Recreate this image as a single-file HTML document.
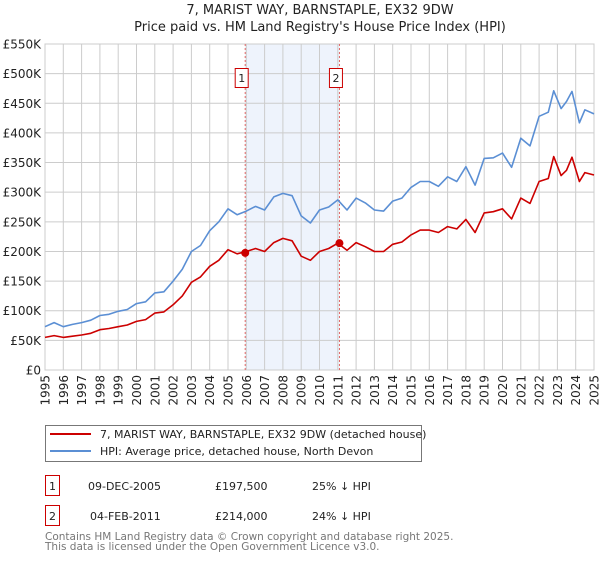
<!DOCTYPE html>
<html><head><meta charset="utf-8"><style>
body{margin:0;background:#fff;font-family:"DejaVu Sans","Liberation Sans",sans-serif;}
svg text{font-family:"DejaVu Sans","Liberation Sans",sans-serif;}
</style></head><body>
<svg id="chart" width="600" height="560" xmlns="http://www.w3.org/2000/svg">
<text x="320" y="14" text-anchor="middle" font-size="13" fill="#222">7, MARIST WAY, BARNSTAPLE, EX32 9DW</text>
<text x="320" y="31" text-anchor="middle" font-size="13" fill="#222">Price paid vs. HM Land Registry's House Price Index (HPI)</text>
<g id="plot"></g>
<g>
<rect x="45.5" y="425.5" width="376" height="36" fill="#fff" stroke="#777"/>
<line x1="50" y1="434" x2="91" y2="434" stroke="#cc0000" stroke-width="2"/>
<text x="100" y="438" font-size="11" fill="#222">7, MARIST WAY, BARNSTAPLE, EX32 9DW (detached house)</text>
<line x1="50" y1="451" x2="91" y2="451" stroke="#5b8fd4" stroke-width="2"/>
<text x="100" y="455" font-size="11" fill="#222">HPI: Average price, detached house, North Devon</text>
</g>
<g font-size="11" fill="#222">
<rect x="45.5" y="475.5" width="14" height="20" fill="#fff" stroke="#cc0000"/>
<text x="52.5" y="490" text-anchor="middle">1</text>
<text x="88" y="490">09-DEC-2005</text>
<text x="215" y="490">£197,500</text>
<text x="312" y="490">25% ↓ HPI</text>
<rect x="45.5" y="505.5" width="14" height="20" fill="#fff" stroke="#cc0000"/>
<text x="52.5" y="520" text-anchor="middle">2</text>
<text x="90" y="520">04-FEB-2011</text>
<text x="215" y="520">£214,000</text>
<text x="312" y="520">24% ↓ HPI</text>
</g>
<text x="45" y="540" font-size="10.5" fill="#777">Contains HM Land Registry data © Crown copyright and database right 2025.</text>
<text x="45" y="550" font-size="10.5" fill="#777">This data is licensed under the Open Government Licence v3.0.</text>
</svg>
<script>
const times=[1995,1995.5,1996,1996.5,1997,1997.5,1998,1998.5,1999,1999.5,2000,2000.5,2001,2001.5,2002,2002.5,2003,2003.5,2004,2004.5,2005,2005.5,2006,2006.5,2007,2007.5,2008,2008.5,2009,2009.5,2010,2010.5,2011,2011.5,2012,2012.5,2013,2013.5,2014,2014.5,2015,2015.5,2016,2016.5,2017,2017.5,2018,2018.5,2019,2019.5,2020,2020.5,2021,2021.5,2022,2022.5,2022.8,2023.2,2023.5,2023.8,2024.2,2024.5,2025];
const hpiValues=[73,80,73,77,80,84,92,94,99,102,112,115,130,132,150,170,200,210,235,250,272,262,268,276,270,292,298,294,260,248,270,275,287,270,290,282,270,268,285,290,308,318,318,310,326,318,343,312,357,358,366,342,391,378,428,435,471,441,453,470,417,439,432];
const priceValues=[55,58,55,57,59,62,68,70,73,76,82,85,96,98,110,125,148,157,175,185,203,196,200,205,200,215,222,218,192,185,200,205,214,202,215,208,200,200,212,216,228,236,236,232,242,238,254,232,265,267,272,255,290,281,318,323,360,328,337,359,318,333,329];
const yTicks=[0,50,100,150,200,250,300,350,400,450,500,550];
const yTickLabels=["£0","£50K","£100K","£150K","£200K","£250K","£300K","£350K","£400K","£450K","£500K","£550K"];
const xYears=[1995,1996,1997,1998,1999,2000,2001,2002,2003,2004,2005,2006,2007,2008,2009,2010,2011,2012,2013,2014,2015,2016,2017,2018,2019,2020,2021,2022,2023,2024,2025];
const saleTimes=[2005.94,2011.09];
const salePrices=[197.5,214];
const saleLabels=["1","2"];

const X0=45,X1=594,Y0=370,Y1=44;
const xs=t=>X0+(t-1995)/(2025-1995)*(X1-X0);
const ys=v=>Y0-v/550*(Y0-Y1);
const NS="http://www.w3.org/2000/svg";
const g=document.getElementById('plot');
function mk(tag,attrs){const e=document.createElementNS(NS,tag);for(const k in attrs)e.setAttribute(k,attrs[k]);g.appendChild(e);return e;}

const bg=mk('rect',{x:X0,y:Y1,width:X1-X0,height:Y0-Y1,fill:'#fff'});


const sh=mk('rect',{x:xs(saleTimes[0]),y:Y1,width:xs(saleTimes[1])-xs(saleTimes[0]),height:Y0-Y1,fill:'#eef3fc'});



yTicks.forEach((v,i)=>{
 const l=mk('line',{x1:X0,x2:X1,y1:ys(v),y2:ys(v),stroke:'#ccc','stroke-width':1});
 
 
 const t=mk('text',{x:X0-4,y:ys(v)+4.5,'text-anchor':'end','font-size':'12',fill:'#222'});
 t.textContent=yTickLabels[i];
 
 
});
xYears.forEach(yr=>{
 const l=mk('line',{x1:xs(yr),x2:xs(yr),y1:Y1,y2:Y0,stroke:'#ccc','stroke-width':1});
 
 
 const t=mk('text',{x:0,y:0,'text-anchor':'end','font-size':'12',fill:'#222',transform:`translate(${xs(yr)+4.5},${Y0+5}) rotate(-90)`});
 t.textContent=yr;
 
 
});
const br=mk('rect',{x:X0,y:Y1,width:X1-X0,height:Y0-Y1,fill:'none',stroke:'#ccc'});



saleTimes.forEach((t,i)=>{
 const l=mk('line',{x1:xs(t),x2:xs(t),y1:Y1,y2:Y0,stroke:'#e06666','stroke-width':1,'stroke-dasharray':'2,2'});
 
 
 const b=mk('rect',{x:xs(t)-10,y:68.5,width:13,height:19,fill:'#fff',stroke:'#cc0000'});
 
 
 const tx=mk('text',{x:xs(t)-3.5,y:82,'text-anchor':'middle','font-size':'11',fill:'#222'});
 tx.textContent=saleLabels[i];
 
 
});

function line(vals,color,name){
 const d=vals.map((v,i)=>(i?'L':'M')+xs(times[i]).toFixed(1)+','+ys(v).toFixed(1)).join('');
 const p=mk('path',{d:d,fill:'none',stroke:color,'stroke-width':1.6,'stroke-linejoin':'round'});
 
 
}
line(hpiValues,'#5b8fd4','hpi-line');
line(priceValues,'#cc0000','price-paid-line');
saleTimes.forEach((t,i)=>{
 const c=mk('circle',{cx:xs(t),cy:ys(salePrices[i]),r:4,fill:'#cc0000'});
 
 
});
</script>
</body></html>
